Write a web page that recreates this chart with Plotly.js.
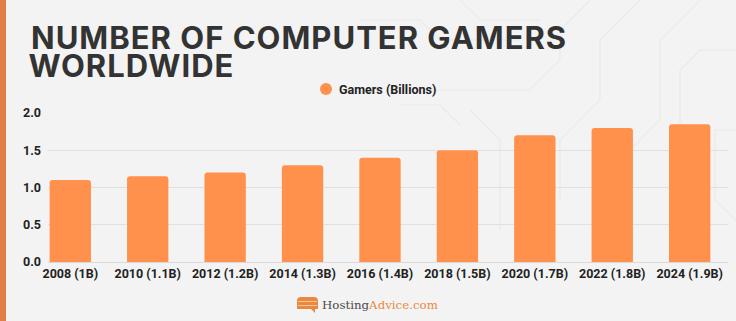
<!DOCTYPE html>
<html>
<head>
<meta charset="utf-8">
<script src="https://cdn.plot.ly/plotly-3.0.1.min.js"></script>
<style>
  html, body { margin: 0; padding: 0; background: #F3F3F3; }
  #chart { width: 736px; height: 321px; }
  #chart .gtitle, #chart g.annotation[data-index="0"] text { letter-spacing: 1px; }
</style>
</head>
<body>
<div id="chart"></div>
<script>
// ---- data ----
const categories = ["2008 (1B)", "2010 (1.1B)", "2012 (1.2B)", "2014 (1.3B)", "2016 (1.4B)",
                    "2018 (1.5B)", "2020 (1.7B)", "2022 (1.8B)", "2024 (1.9B)"];
const gamers = [1.1, 1.15, 1.2, 1.3, 1.4, 1.5, 1.7, 1.8, 1.85];
const seriesName = "Gamers (Billions)";
const yTicks = [0, 0.5, 1.0, 1.5, 2.0];
const yTickText = ["0.0", "0.5", "1.0", "1.5", "2.0"];
const titleLine1 = "NUMBER OF COMPUTER GAMERS";
const titleLine2 = "WORLDWIDE";

// ---- layout geometry (pixels) ----
const W = 736, H = 321;
const M = { l: 48, r: 8, t: 113, b: 59 };
const PW = W - M.l - M.r, PH = H - M.t - M.b;
const px = x => (x - M.l) / PW;          // pixel x -> paper
const py = y => (H - M.b - y) / PH;      // pixel y -> paper

const ORANGE = "#FF914D";
const TXT = "#222222";
const TITLE_FONT = { family: "Inter", size: 31, color: "#333333", weight: 700 };

const bar = {
  type: "bar",
  x: categories,
  y: gamers,
  name: seriesName,
  marker: { color: ORANGE, cornerradius: 3 },
  showlegend: false,
  hoverinfo: "x+y"
};

// faint decorative circuit traces in the background
const circuit = [
  [[590, 0], [560, 30], [560, 60], [530, 90], [430, 90]],
  [[640, 0], [600, 40], [600, 100], [560, 140], [560, 200]],
  [[700, 0], [660, 40], [660, 120], [620, 160], [620, 230]],
  [[736, 50], [700, 50], [680, 70], [680, 150]],
  [[736, 130], [715, 130], [715, 200], [736, 220]],
  [[460, 0], [480, 20], [540, 20]],
  [[360, 20], [420, 20], [440, 40], [520, 40]],
  [[470, 110], [500, 140], [500, 230]],
  [[400, 105], [440, 105], [460, 125]]
];
const circuitShapes = circuit.map(pts => ({
  type: "path", xref: "paper", yref: "paper", layer: "below",
  path: pts.map((p, i) => (i ? "L " : "M ") + px(p[0]) + " " + py(p[1])).join(" "),
  line: { color: "#EAEAEA", width: 1.2 }
}));

const shapes = circuitShapes.concat([
  // left accent strip
  { type: "rect", xref: "paper", yref: "paper", x0: px(0), x1: px(6), y0: py(H), y1: py(0),
    fillcolor: "#E27D47", line: { width: 0 }, layer: "below" },
  // legend marker
  { type: "circle", xref: "paper", yref: "paper", xsizemode: "pixel", ysizemode: "pixel",
    xanchor: px(326), yanchor: py(89), x0: -6, x1: 6, y0: -6, y1: 6,
    fillcolor: ORANGE, line: { width: 0 } },
  // logo icon
  { type: "path", xref: "paper", yref: "paper",
    path: `M ${px(297)} ${py(301)} Q ${px(297)} ${py(297)} ${px(301)} ${py(297)} L ${px(314)} ${py(297)} Q ${px(318)} ${py(297)} ${px(318)} ${py(301)} L ${px(318)} ${py(309)} L ${px(315)} ${py(309)} L ${px(315)} ${py(313)} L ${px(311)} ${py(309)} L ${px(297)} ${py(309)} Z`,
    fillcolor: "#E8893F", line: { width: 0 } },
  { type: "line", xref: "paper", yref: "paper", x0: px(298), x1: px(317), y0: py(301.5), y1: py(301.5),
    line: { color: "#F6C59A", width: 1 } },
  { type: "line", xref: "paper", yref: "paper", x0: px(298), x1: px(317), y0: py(305.5), y1: py(305.5),
    line: { color: "#F6C59A", width: 1 } }
]);

const annotations = [
  { text: titleLine2, xref: "paper", yref: "paper", x: px(31), y: py(66), xanchor: "left", yanchor: "middle",
    showarrow: false, font: TITLE_FONT },
  { text: seriesName, xref: "paper", yref: "paper", x: px(337), y: py(89), xanchor: "left", yanchor: "middle",
    showarrow: false, font: { family: "Roboto", size: 12.5, color: TXT, weight: 700 } },
  { text: "<span style='color:#4a4a4a'>Hosting</span><span style='color:#E8893F'>Advice.com</span>",
    xref: "paper", yref: "paper", x: px(320), y: py(305), xanchor: "left", yanchor: "middle",
    showarrow: false, font: { family: "DejaVu Serif", size: 11.8, color: "#4a4a4a" } }
];

const layout = {
  width: W, height: H,
  margin: M,
  paper_bgcolor: "#F3F3F3",
  plot_bgcolor: "rgba(0,0,0,0)",
  title: {
    text: titleLine1,
    xref: "container", yref: "container",
    x: 31 / W, xanchor: "left",
    y: 1 - 38 / H, yanchor: "middle",
    font: TITLE_FONT
  },
  bargap: 0.466,
  showlegend: false,
  xaxis: {
    type: "category",
    range: [-0.288, 8.495],
    showgrid: false, zeroline: false, showline: false,
    ticks: "",
    tickfont: { family: "Roboto", size: 12.5, color: TXT, weight: 700 },
    ticklabelstandoff: 2
  },
  yaxis: {
    range: [0, 2.0],
    tickvals: yTicks, ticktext: yTickText,
    showgrid: true, gridcolor: "#E0E0E0", gridwidth: 1,
    zeroline: true, zerolinecolor: "#DADADA", zerolinewidth: 1,
    showline: false, ticks: "",
    tickfont: { family: "Roboto", size: 12.5, color: TXT, weight: 700 },
    ticklabelstandoff: 6
  },
  shapes: shapes,
  annotations: annotations
};

Plotly.newPlot("chart", [bar], layout, { displayModeBar: false, staticPlot: true });
</script>
</body>
</html>
